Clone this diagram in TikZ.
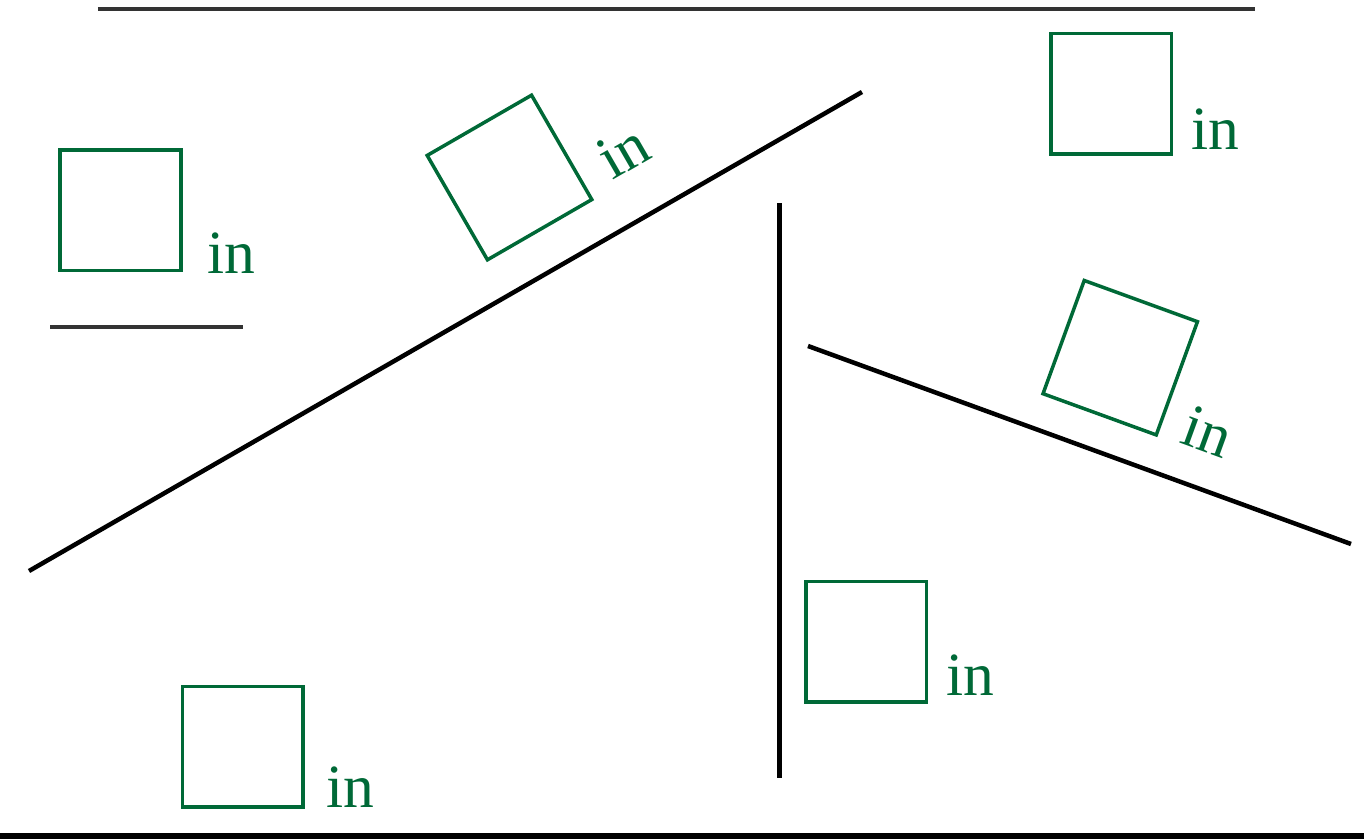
\documentclass[tikz,border=0pt]{standalone}
\usepackage{fontspec}
\setmainfont{Liberation Serif}
\definecolor{leafgreen}{RGB}{0,105,55}
\definecolor{ruleGray}{RGB}{51,51,51}
\begin{document}
\begin{tikzpicture}[
  inbox/.style={draw=leafgreen,minimum size=1.205cm,inner sep=0pt,line width=0.035cm},
  inlabel/.style={text=leafgreen,anchor=base west,inner sep=0pt,font=\fontsize{17.5}{20}\selectfont},
  wall/.style={draw=black,line width=0.045cm}]
  \useasboundingbox (0,0) rectangle (13.64,8.39);

  % floor and ceiling
  \draw[ruleGray,line width=0.04cm] (0.98,8.30) -- (12.55,8.30);
  \draw[black,line width=0.06cm] (0,0.03) -- (13.64,0.03);
  \draw[ruleGray,line width=0.04cm] (0.50,5.12) -- (2.43,5.12);

  % slopes and the wall
  \draw[wall] (0.29,2.68) -- (8.62,7.47);
  \draw[wall] (7.795,6.36) -- (7.795,0.61);
  \draw[wall] (8.08,4.93) -- (13.51,2.95);

  % boxes with their labels
  \foreach \nm/\cx/\cy/\ang/\lx/\ly in {
      A/1.205/6.29/0/2.07/5.66,
      B/5.095/6.615/30/6.12/6.58,
      C/11.11/7.455/0/11.91/6.89,
      D/11.2025/4.813/-20/11.78/3.97,
      E/8.663/1.973/0/9.46/1.44,
      F/2.428/0.925/0/3.26/0.317}{
    \node[inbox,rotate=\ang] (sq\nm) at (\cx,\cy) {};
    \node[inlabel,rotate=\ang] (lb\nm) at (\lx,\ly) {in};
  }
\end{tikzpicture}
\end{document}
